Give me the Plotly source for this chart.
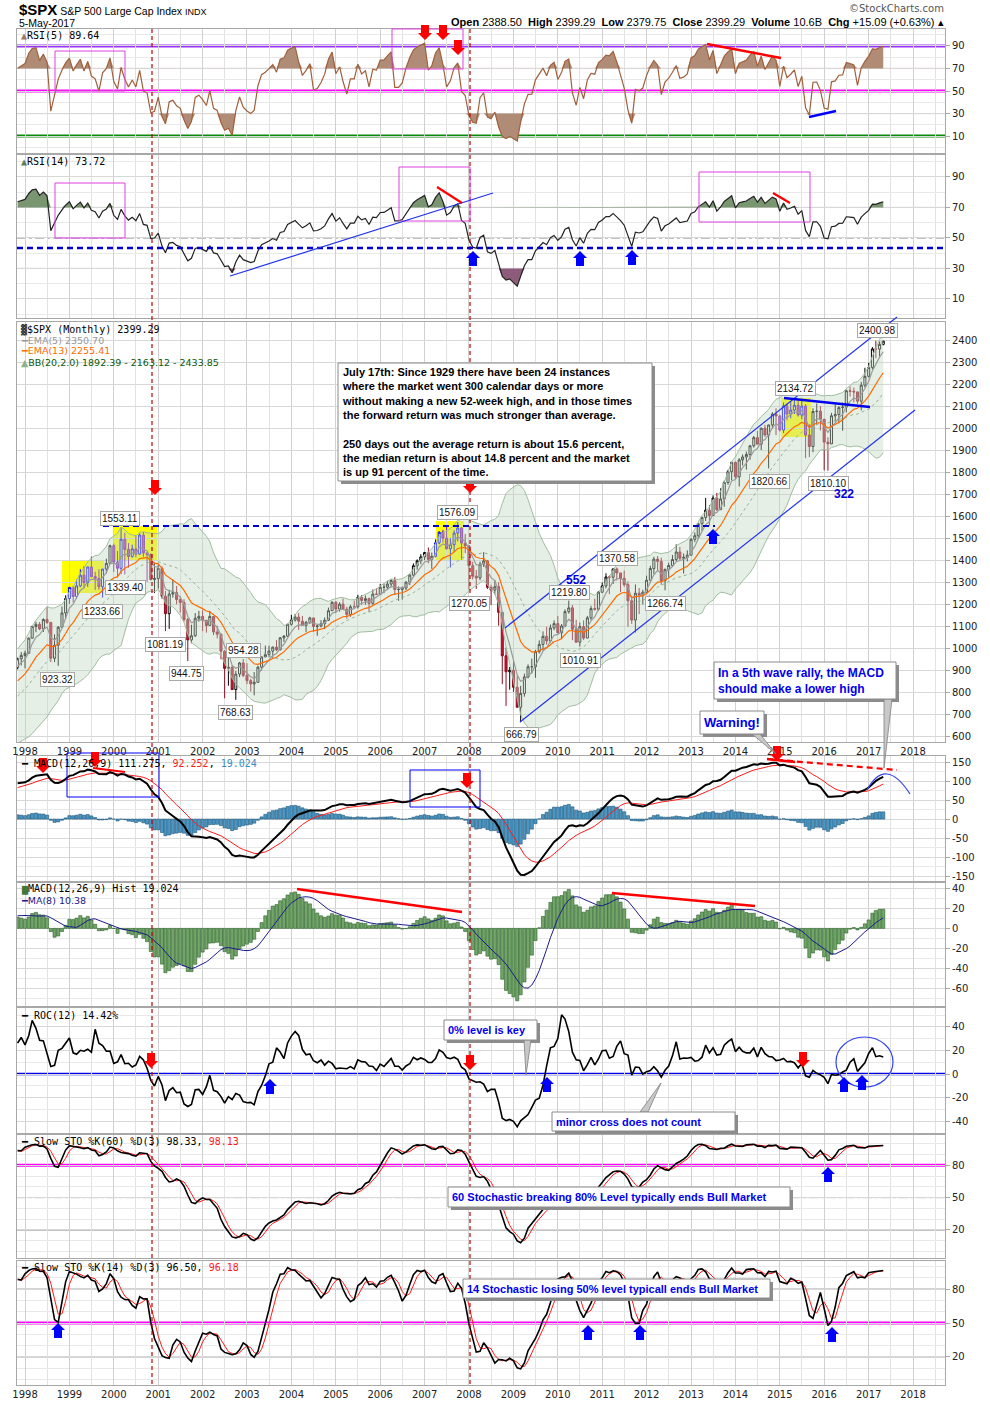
import numpy as np
import pandas as pd
import plotly.graph_objects as go
from plotly.subplots import make_subplots

# monthly $SPX, Jan 1992 - May 2017 (1992-97 only feeds the indicator look-back)
spx_close = [
    408.79, 412.70, 403.69, 414.95, 415.35, 408.14, 424.21, 414.03, 417.80, 418.68, 431.35, 435.71,
    438.78, 443.38, 451.67, 440.19, 450.19, 450.53, 448.13, 463.56, 458.93, 467.83, 461.79, 466.45,
    481.61, 467.14, 445.77, 450.91, 456.50, 444.27, 458.26, 475.49, 462.69, 472.35, 453.69, 459.27,
    470.42, 487.39, 500.71, 514.71, 533.40, 544.75, 562.06, 561.88, 584.41, 581.50, 605.37, 615.93,
    636.02, 640.43, 645.50, 654.17, 669.12, 670.63, 639.95, 651.99, 687.33, 705.27, 757.02, 740.74,
    786.16, 790.82, 757.12, 801.34, 848.28, 885.14, 954.31, 899.47, 947.28, 914.62, 955.40, 970.43,
    980.28, 1049.34, 1101.75, 1111.75, 1090.82, 1133.84, 1120.67, 957.28, 1017.01, 1098.67, 1163.63, 1229.23,
    1279.64, 1238.33, 1286.37, 1335.18, 1301.84, 1372.71, 1328.72, 1320.41, 1282.71, 1362.93, 1388.91, 1469.25,
    1394.46, 1366.42, 1498.58, 1452.43, 1420.60, 1454.60, 1430.83, 1517.68, 1436.51, 1429.40, 1314.95, 1320.28,
    1366.01, 1239.94, 1160.33, 1249.46, 1255.82, 1224.42, 1211.23, 1133.58, 1040.94, 1059.78, 1139.45, 1148.08,
    1130.20, 1106.73, 1147.39, 1076.92, 1067.14, 989.82, 911.62, 916.07, 815.28, 885.76, 936.31, 879.82,
    855.70, 841.15, 848.18, 916.92, 963.59, 974.50, 990.31, 1008.01, 995.97, 1050.71, 1058.20, 1111.92,
    1131.13, 1144.94, 1126.21, 1107.30, 1120.68, 1140.84, 1101.72, 1104.24, 1114.58, 1130.20, 1173.82, 1211.92,
    1181.27, 1203.60, 1180.59, 1156.85, 1191.50, 1191.33, 1234.18, 1220.33, 1228.81, 1207.01, 1249.48, 1248.29,
    1280.08, 1280.66, 1294.87, 1310.61, 1270.09, 1270.20, 1276.66, 1303.82, 1335.85, 1377.94, 1400.63, 1418.30,
    1438.24, 1406.82, 1420.86, 1482.37, 1530.62, 1503.35, 1455.27, 1473.99, 1526.75, 1549.38, 1481.14, 1468.36,
    1378.55, 1330.63, 1322.70, 1385.59, 1400.38, 1280.00, 1267.38, 1282.83, 1166.36, 968.75, 896.24, 903.25,
    825.88, 735.09, 797.87, 872.81, 919.14, 919.32, 987.48, 1020.62, 1057.08, 1036.19, 1095.63, 1115.10,
    1073.87, 1104.49, 1169.43, 1186.69, 1089.41, 1030.71, 1101.60, 1049.33, 1141.20, 1183.26, 1180.55, 1257.64,
    1286.12, 1327.22, 1325.83, 1363.61, 1345.20, 1320.64, 1292.28, 1218.89, 1131.42, 1253.30, 1246.96, 1257.60,
    1312.41, 1365.68, 1408.47, 1397.91, 1310.33, 1362.16, 1379.32, 1406.58, 1440.67, 1412.16, 1416.18, 1426.19,
    1498.11, 1514.68, 1569.19, 1597.57, 1630.74, 1606.28, 1685.73, 1632.97, 1681.55, 1756.54, 1805.81, 1848.36,
    1782.59, 1859.45, 1872.34, 1883.95, 1923.57, 1960.23, 1930.67, 2003.37, 1972.29, 2018.05, 2067.56, 2058.90,
    1994.99, 2104.50, 2067.89, 2085.51, 2107.39, 2063.11, 2103.84, 1972.18, 1920.03, 2079.36, 2080.41, 2043.94,
    1940.24, 1932.23, 2059.74, 2065.30, 2096.95, 2098.86, 2173.60, 2170.95, 2168.27, 2126.15, 2198.81, 2238.83,
    2278.87, 2363.64, 2362.72, 2384.20, 2399.29,
]
spx_high = [
    420.77, 418, 413, 416, 419, 417, 425, 425, 423, 419, 432, 442,
    442, 450, 456, 452, 454, 454, 451, 464, 464, 470, 469, 471,
    483, 483, 471, 453, 458, 462, 459, 477, 476, 474, 474, 466,
    472, 489, 503, 515, 534, 552, 563, 565, 586, 587, 607, 623,
    638, 665, 660, 660, 681, 680, 673, 669, 691, 714, 758, 762,
    794, 817, 815, 805, 852, 898, 957, 961, 960, 983, 961, 986,
    992, 1051, 1106, 1123, 1122, 1139, 1190.58, 1121, 1066, 1104, 1193, 1244,
    1280, 1284, 1316, 1362, 1376, 1373, 1420, 1351, 1362, 1364, 1410, 1474,
    1478, 1445, 1553.11, 1528, 1481, 1474, 1517, 1525, 1531, 1437, 1434, 1390,
    1383, 1376, 1263, 1269, 1316, 1286, 1239, 1226, 1141, 1110, 1163, 1173,
    1176, 1131, 1173, 1148, 1106, 1070, 994, 965, 925, 900, 941, 954.28,
    935, 864, 895, 924, 965, 1015, 1015, 1011, 1040, 1054, 1063, 1112,
    1155, 1159, 1163, 1150, 1128, 1146, 1141, 1109, 1131, 1143, 1188, 1217,
    1218, 1212, 1229, 1192, 1200, 1220, 1246, 1245, 1243, 1233, 1270, 1275,
    1295, 1297, 1310, 1318, 1326, 1284, 1284, 1307, 1340, 1389, 1407, 1431,
    1441, 1461, 1438, 1498, 1535, 1541, 1556, 1503, 1539, 1576.09, 1554, 1523,
    1471, 1396, 1359, 1397, 1440, 1404, 1292, 1313, 1303, 1168, 1007, 918,
    943, 877, 832, 888, 930, 956, 996, 1039, 1080, 1101, 1111, 1130,
    1150, 1113, 1180, 1219.80, 1200, 1132, 1120, 1130, 1150, 1196, 1228, 1263,
    1302, 1344, 1333, 1366, 1370.58, 1346, 1356, 1307, 1230, 1293, 1277, 1269,
    1333, 1378, 1419, 1422, 1415, 1364, 1392, 1427, 1475, 1464, 1434, 1448,
    1504, 1530, 1570, 1598, 1687, 1654, 1698, 1709, 1730, 1765, 1814, 1849,
    1851, 1867, 1884, 1897, 1925, 1968, 1991, 2006, 2019, 2019, 2076, 2094,
    2064, 2120, 2117, 2126, 2134.72, 2130, 2133, 2113, 2021, 2094, 2116, 2104,
    2044, 1962, 2073, 2111, 2103, 2120, 2178, 2193, 2188, 2169, 2214, 2278,
    2300, 2372, 2400.98, 2398, 2399.29,
]
spx_low = [
    403, 406, 401, 397, 410, 401, 407, 410, 413, 402, 417, 429,
    429, 431, 441, 436, 436, 441, 441, 447, 452, 457, 460, 460,
    465, 466, 436, 435, 443, 442, 444, 457, 461, 460, 449, 443,
    458, 469, 485, 500, 511, 530, 542, 552, 560, 573, 580, 604,
    597, 635, 627, 624, 646, 658, 605, 639, 650, 684, 703, 723,
    738, 773, 756, 733, 797, 832, 885, 897, 899, 855, 907, 925,
    912, 979, 1047, 1076, 1085, 1077, 1114, 939.98, 939.87, 923.32, 1095, 1136,
    1205, 1211, 1227, 1280, 1277, 1282, 1325, 1268, 1269, 1233.66, 1343, 1385,
    1350, 1325, 1339.40, 1339, 1369, 1415, 1416, 1429, 1419, 1305, 1312, 1254,
    1274, 1228, 1081.19, 1091, 1233, 1203, 1165, 1124, 944.75, 1026, 1054, 1124,
    1081, 1074, 1106, 1063, 1048, 952.92, 775.68, 833, 815, 768.63, 872, 872,
    840, 806, 788.90, 847, 902, 963, 962, 960, 990, 994, 1031, 1054,
    1106, 1124, 1087, 1106, 1076, 1113, 1078, 1060, 1098, 1090, 1127, 1173,
    1163, 1170, 1176, 1137, 1146, 1188, 1183, 1201, 1201, 1168, 1201, 1246,
    1245, 1253, 1268, 1280, 1245, 1219, 1224, 1266, 1290, 1327, 1360, 1385,
    1403, 1389, 1364, 1416, 1476, 1484, 1452, 1370, 1439, 1489, 1406, 1435,
    1270.05, 1316, 1273, 1312, 1373, 1272, 1200, 1248, 1106, 839.80, 741.02, 815,
    805, 735, 666.79, 783, 866, 888, 869, 979, 992, 1020, 1029, 1085,
    1071, 1044, 1101, 1160, 1040, 1028, 1010.91, 1040, 1049, 1131, 1174, 1173,
    1256, 1275, 1249, 1295, 1311, 1258, 1282, 1101, 1114, 1074.77, 1158, 1202,
    1257, 1312, 1340, 1357, 1292, 1266.74, 1325, 1378, 1397, 1403, 1343, 1398,
    1426, 1485, 1501, 1536, 1581, 1560, 1605, 1627, 1633, 1646, 1746, 1767,
    1770, 1737.92, 1834, 1815, 1860, 1915, 1930, 1904, 1964, 1820.66, 2001, 1972,
    1988, 1981, 2039, 2048, 2068, 2056, 2044, 1867, 1872, 1894, 2019, 1993,
    1812, 1810.10, 1931, 2033, 2025, 1992, 2075, 2147, 2120, 2114, 2084, 2188,
    2234, 2271, 2322, 2329, 2379.75,
]
open_before_first = 417.09   # Dec 1991 close; each month opens at the prior close

# months whose candles are highlighted inside the yellow boxes
highlight = [("1999-01", "1999-10"), ("2000-01", "2000-10"), ("2007-04", "2007-11"), ("2015-01", "2015-08")]

# high / low labels on the price panel: (text, x px, y px)
price_labels = [
    ("1553.11", 120, 518), ("1339.40", 125, 587), ("1233.66", 102, 611), ("923.32", 57, 679),
    ("1081.19", 165, 644), ("944.75", 186, 673), ("954.28", 243, 650), ("768.63", 235, 712),
    ("1576.09", 457, 512), ("1270.05", 469, 603), ("666.79", 521, 734), ("1219.80", 569, 592),
    ("1010.91", 580, 660), ("1370.58", 617, 558), ("1266.74", 665, 603), ("2134.72", 795, 389),
    ("1820.66", 769, 481), ("1810.10", 828, 483), ("2400.98", 877, 331),
]

months = pd.date_range("1992-01-01", periods=len(spx_close), freq="MS")
df = pd.DataFrame({"close": spx_close, "high": spx_high, "low": spx_low}, index=months)
df["open"] = [open_before_first] + spx_close[:-1]
c = df["close"]

# indicators, standard StockCharts definitions on the monthly bars
ema5 = c.ewm(span=5, adjust=False).mean()
ema13 = c.ewm(span=13, adjust=False).mean()
bb_mid = c.rolling(20).mean()
bb_sd = c.rolling(20).std(ddof=0)
bb_up, bb_dn = bb_mid + 2 * bb_sd, bb_mid - 2 * bb_sd


def rsi(s, n):
    d = s.diff()
    up = d.clip(lower=0).ewm(alpha=1 / n, adjust=False).mean()
    dn = (-d.clip(upper=0)).ewm(alpha=1 / n, adjust=False).mean()
    return 100 - 100 / (1 + up / dn)


def slow_sto(n):
    hh = df["high"].rolling(n, min_periods=1).max()
    ll = df["low"].rolling(n, min_periods=1).min()
    k = ((c - ll) / (hh - ll) * 100).rolling(3).mean()
    return k, k.rolling(3).mean()


rsi5, rsi14 = rsi(c, 5), rsi(c, 14)
macd = c.ewm(span=12, adjust=False).mean() - c.ewm(span=26, adjust=False).mean()
signal = macd.ewm(span=9, adjust=False).mean()
hist = macd - signal
hist_ma = hist.rolling(8).mean()
roc = (c / c.shift(12) - 1) * 100
k60, d60 = slow_sto(60)
k14, d14 = slow_sto(14)

start = "1997-11-01"
v = df.loc[start:]
cut = lambda s: s.loc[start:]
t = v.index

# ---- page geometry (pixels of the 990x1401 page) ----
W, H = 990, 1401
ML, MR, MT, MB = 17, 45, 29, 16
PW, PH = W - ML - MR, H - MT - MB
def px(x): return (x - ML) / PW
def py(y): return (H - MB - y) / PH

panels = [(29, 153), (155, 318), (322, 742), (756, 881), (883, 1006), (1008, 1133), (1135, 1258), (1261, 1385)]

fig = make_subplots(rows=8, cols=1, shared_xaxes=True, vertical_spacing=0.004)


def add(tr, r):
    fig.add_trace(tr, row=r, col=1)


def level_fill(r, s, level, color, above):
    clipped = np.maximum(s, level) if above else np.minimum(s, level)
    add(go.Scatter(x=s.index, y=[level] * len(s), mode="lines", line=dict(width=0), hoverinfo="skip"), r)
    add(go.Scatter(x=s.index, y=clipped, mode="lines", line=dict(width=0), fill="tonexty",
                   fillcolor=color, hoverinfo="skip"), r)


# RSI(5)
level_fill(1, cut(rsi5), 70, "rgb(176,140,118)", True)
level_fill(1, cut(rsi5), 30, "rgb(176,140,118)", False)
add(go.Scatter(x=t, y=cut(rsi5), mode="lines", line=dict(color="#a0603c", width=1.2)), 1)

# RSI(14)
level_fill(2, cut(rsi14), 70, "rgb(122,150,112)", True)
level_fill(2, cut(rsi14), 30, "rgb(140,92,122)", False)
add(go.Scatter(x=t, y=cut(rsi14), mode="lines", line=dict(color="#222", width=1.2)), 2)

# price panel
add(go.Scatter(x=t, y=cut(bb_dn), mode="lines", line=dict(color="rgb(160,190,160)", width=1)), 3)
add(go.Scatter(x=t, y=cut(bb_up), mode="lines", line=dict(color="rgb(160,190,160)", width=1),
               fill="tonexty", fillcolor="rgba(195,218,195,0.42)"), 3)
add(go.Scatter(x=t, y=cut(bb_mid), mode="lines", line=dict(color="rgb(150,180,150)", width=1, dash="dot")), 3)

hl = pd.Series(False, index=t)
for a, b in highlight:
    hl.loc[a:b] = True
for mask, inc, dec in [(~hl, ("#000000", "#ffffff"), ("#8a0d20", "#cc1733")),
                       (hl, ("#0000ff", "#ffffff"), ("#7a10a8", "#b035dc"))]:
    d = v[mask.values]
    add(go.Candlestick(x=d.index, open=d["open"], high=d["high"], low=d["low"], close=d["close"],
                       increasing=dict(line=dict(color=inc[0], width=1), fillcolor=inc[1]),
                       decreasing=dict(line=dict(color=dec[0], width=1), fillcolor=dec[1]),
                       whiskerwidth=0), 3)
add(go.Scatter(x=t, y=cut(ema5), mode="lines", line=dict(color="#9a9a9a", width=1.2)), 3)
add(go.Scatter(x=t, y=cut(ema13), mode="lines", line=dict(color="#ff6a00", width=1.2)), 3)

# MACD
add(go.Bar(x=t, y=cut(hist), marker=dict(color="rgb(75,150,195)", line=dict(color="rgb(30,85,120)", width=0.6))), 4)
add(go.Scatter(x=t, y=cut(signal), mode="lines", line=dict(color="#ff1a1a", width=1)), 4)
add(go.Scatter(x=t, y=cut(macd), mode="lines", line=dict(color="#000", width=2)), 4)

# MACD histogram
add(go.Bar(x=t, y=cut(hist), marker=dict(color="rgb(115,165,105)", line=dict(color="rgb(40,95,40)", width=0.6))), 5)
add(go.Scatter(x=t, y=cut(hist_ma), mode="lines", line=dict(color="#1a1a8c", width=1)), 5)

# ROC
add(go.Scatter(x=t, y=cut(roc), mode="lines", line=dict(color="#000", width=1.6)), 6)

# stochastics
for r, k, dd in [(7, k60, d60), (8, k14, d14)]:
    add(go.Scatter(x=t, y=cut(dd), mode="lines", line=dict(color="#ff1a1a", width=1)), r)
    add(go.Scatter(x=t, y=cut(k), mode="lines", line=dict(color="#000", width=1.6)), r)

# ---- axes ----
years = list(range(1998, 2019))
fig.update_xaxes(type="date", range=["1997-10-27", "2018-09-21"], automargin=False,
                 tickvals=[f"{y}-01-01" for y in years], ticktext=[str(y) for y in years],
                 showgrid=True, gridcolor="#d0d0d0",
                 minor=dict(dtick="M6", tick0="1998-01-01", showgrid=True, gridcolor="#e2e2e2"),
                 showline=True, mirror=True, linecolor="#a8a8a8", ticks="", showticklabels=False,
                 tickfont=dict(size=10, color="#222"), rangeslider_visible=False)
fig.update_xaxes(showticklabels=True, row=3, col=1)
fig.update_xaxes(showticklabels=True, row=8, col=1)

yspec = [
    ([-5, 105], [10, 30, 50, 70, 90], 10),
    ([-2.5, 104.4], [10, 30, 50, 70, 90], 10),
    ([577, 2486], list(range(600, 2401, 100)), 100),
    ([-163, 166], list(range(-150, 151, 50)), 25),
    ([-77, 45], list(range(-60, 41, 20)), 10),
    ([-50, 56], list(range(-40, 41, 20)), 10),
    ([-6, 108], [20, 50, 80], 10),
    ([-5, 105], [20, 50, 80], 10),
]
for i, ((rng, ticks, minor), (top, bot)) in enumerate(zip(yspec, panels)):
    fig.update_yaxes(range=rng, tickvals=ticks, ticktext=[str(x) for x in ticks], side="right",
                     domain=[py(bot), py(top)], automargin=False, showgrid=True, gridcolor="#d8d8d8",
                     minor=dict(dtick=minor, showgrid=True, gridcolor="#e9e9e9"),
                     showline=True, mirror=True, linecolor="#a8a8a8", zeroline=False,
                     ticks="outside", ticklen=4, tickcolor="#a8a8a8",
                     tickfont=dict(size=10, color="#222"), row=i + 1, col=1)

# ---- level lines ----
def hl_line(r, y, color, width=1, dash="solid"):
    fig.add_hline(y=y, line=dict(color=color, width=width, dash=dash), layer="below", row=r, col=1)

hl_line(1, 90, "#9933ff", 3); hl_line(1, 70, "#a0522d"); hl_line(1, 50, "#ff00ff", 3)
hl_line(1, 30, "#a0522d"); hl_line(1, 10, "#0a8a0a", 3)
hl_line(2, 70, "#707070"); hl_line(2, 50, "#707070", 1, "dashdot"); hl_line(2, 30, "#707070")
hl_line(6, 0, "#0000ee", 2.5)
hl_line(7, 80, "#666", 1); hl_line(7, 80, "#ff00ff", 3); hl_line(7, 50, "#555", 1, "dashdot"); hl_line(7, 20, "#777")
hl_line(8, 80, "#777"); hl_line(8, 20, "#777"); hl_line(8, 50, "#555", 1, "dashdot"); hl_line(8, 50, "#ff00ff", 3)


# ---- drawn annotations (page pixels -> paper) ----
def seg(x0, y0, x1, y1, color, width=1, dash="solid"):
    fig.add_shape(type="line", xref="paper", yref="paper", x0=px(x0), y0=py(y0), x1=px(x1), y1=py(y1),
                  line=dict(color=color, width=width, dash=dash))


def box(x0, y0, x1, y1, color, width=1, fill=None, layer="above"):
    fig.add_shape(type="rect", xref="paper", yref="paper", x0=px(x0), y0=py(y0), x1=px(x1), y1=py(y1),
                  line=dict(color=color, width=width), fillcolor=fill, layer=layer)


DOWN = "M0,0 L-7,7 L-4,7 L-4,15 L4,15 L4,7 L7,7 Z"
UP = "M0,0 L-7,-7 L-4,-7 L-4,-15 L4,-15 L4,-7 L7,-7 Z"


def arrow(x, y, down):
    fig.add_shape(type="path", path=DOWN if down else UP, xref="paper", yref="paper",
                  xsizemode="pixel", ysizemode="pixel", xanchor=px(x), yanchor=py(y),
                  fillcolor="#ff0000" if down else "#0000ff", line=dict(width=0))


def note(x, y, text, size=10, color="#000", xanchor="left", family="DejaVu Sans Mono", **kw):
    fig.add_annotation(x=px(x), y=py(y), xref="paper", yref="paper", text=text, showarrow=False,
                       xanchor=xanchor, yanchor="middle", font=dict(size=size, color=color, family=family), **kw)


def callout(x0, y0, x1, y1, text, size, color, tail=None):
    box(x0 + 3, y0 + 3, x1 + 3, y1 + 3, "rgba(0,0,0,0)", 0, "#8c8c8c")
    if tail:
        (ax0, ay0), (ax1, ay1), (tx, ty) = tail
        fig.add_shape(type="path", xref="paper", yref="paper", fillcolor="#c8c8c8",
                      line=dict(color="#808080", width=0.8),
                      path=f"M{px(ax0)},{py(ay0)} L{px(tx)},{py(ty)} L{px(ax1)},{py(ay1)} Z")
    box(x0, y0, x1, y1, "#8a8a8a", 1, "#ffffff")
    note(x0 + 2, (y0 + y1) / 2, text, size, color, family="Liberation Sans", align="left")


# yellow highlight boxes
for b in [(62, 560, 104, 593), (114, 526, 157, 560), (436, 521, 464, 561), (781, 398, 811, 437)]:
    box(*b, "rgba(0,0,0,0)", 0, "#ffff00", layer="below")

# red dashed verticals through all panels
for x in (152, 470):
    seg(x, 29, x, 1385, "#c00000", 1.2, "4px,3px")

# RSI(5)
box(55, 51, 125, 91, "#e040e0"); box(392, 29, 463, 69, "#e040e0")
seg(707, 44, 781, 58, "#ff0000", 2.5); seg(809, 117, 836, 111, "#0000ff", 2.5)
# RSI(14)
box(55, 183, 125, 238, "#e040e0"); box(399, 167, 470, 221, "#e040e0"); box(699, 172, 810, 222, "#e040e0")
seg(17, 248, 945, 248, "#0000cc", 2.5, "6px,4px")
seg(230, 276, 493, 193, "#2233ee", 1.2)
seg(437, 187, 462, 203, "#ff0000", 2.2); seg(773, 193, 790, 203, "#ff0000", 2.2)
# price
seg(103, 526, 715, 526, "#0000cc", 2, "6px,4px")
seg(505, 628, 897, 317, "#2233ee", 1.2); seg(520, 722, 915, 410, "#2233ee", 1.2)
seg(784, 398, 870, 407, "#0000ee", 2.5)
# MACD
box(67, 753, 159, 797, "#0000ff"); box(410, 770, 480, 807, "#0000ff")
seg(93, 768, 125, 772, "#ff0000", 2)
seg(767, 759, 795, 762, "#ff0000", 2.5); seg(767, 759, 897, 770, "#ff0000", 2.2, "6px,4px")
fig.add_shape(type="path", xref="paper", yref="paper", line=dict(color="#3344ee", width=1.2),
              path=f"M{px(867)},{py(790)} Q{px(885.5)},{py(756)} {px(910)},{py(794)}")
# histogram
seg(297, 889, 462, 912, "#ff0000", 2.5); seg(612, 893, 755, 906, "#ff0000", 2.5)
# ROC ellipse
fig.add_shape(type="circle", xref="paper", yref="paper", x0=px(836), y0=py(1087), x1=px(893), y1=py(1037),
              line=dict(color="#3344ee", width=1.2))

for x, y in [(425, 40), (443, 40), (458, 55), (155, 495), (470, 493), (43, 773), (95, 767), (467, 788),
             (777, 761), (151, 1068), (470, 1070), (803, 1067)]:
    arrow(x, y, True)
for x, y in [(473, 251), (580, 251), (632, 250), (713, 529), (270, 1079), (547, 1077), (844, 1077),
             (862, 1075), (828, 1167), (58, 1323), (588, 1325), (640, 1325), (832, 1327)]:
    arrow(x, y, False)

# text boxes
callout(338, 363, 652, 481,
        "<b>July 17th: Since 1929 there have been 24 instances<br>where the market went 300 calendar days or more<br>"
        "without making a new 52-week high, and in those times<br>the forward return was much stronger than average."
        "<br> <br>250 days out the average return is about 15.6 percent,<br>the median return is about 14.8 percent and the market"
        "<br>is up 91 percent of the time.</b>", 11, "#000")
callout(714, 662, 896, 699, "<b>In a 5th wave rally, the MACD<br>should make a lower high</b>", 12, "#0000ee",
        tail=((884, 699), (892, 699), (884, 768)))
callout(700, 711, 764, 734, "<b>Warning!</b>", 13, "#0000ee", tail=((752, 734), (760, 734), (776, 754)))
callout(444, 1020, 537, 1040, "<b>0% level is key</b>", 11, "#0000ee", tail=((524, 1040), (531, 1040), (526, 1075)))
callout(552, 1112, 735, 1131, "<b>minor cross does not count</b>", 11, "#0000ee",
        tail=((640, 1112), (648, 1112), (661, 1083)))
callout(448, 1187, 790, 1207, "<b>60 Stochastic breaking 80% Level typically ends Bull Market</b>", 11, "#0000ee")
callout(463, 1279, 770, 1298, "<b>14 Stochastic losing 50% level typicall ends Bull Market</b>", 11, "#0000ee")

# price value labels
for txt, x, y in price_labels:
    note(x, y, txt, 10, "#111", xanchor="center", family="Liberation Sans",
         bgcolor="#ffffff", bordercolor="#a8a8a8", borderwidth=1, borderpad=1)
note(576, 580, "<b>552</b>", 12, "#0000dd", xanchor="center", family="Liberation Sans")
note(844, 494, "<b>322</b>", 12, "#0000dd", xanchor="center", family="Liberation Sans")

# header
note(17, 10, "<b><span style='font-size:15px'>$SPX</span></b> S&P 500 Large Cap Index "
     "<span style='font-size:9px'>INDX</span>", 10.5, "#000", family="Liberation Sans")
note(17, 23, "5-May-2017", 10.5, "#000", family="Liberation Sans")
note(946, 9, "\u00a9StockCharts.com", 10, "#555", xanchor="right", family="DejaVu Sans")
note(946, 22, "<b>Open</b> 2388.50  <b>High</b> 2399.29  <b>Low</b> 2379.75  <b>Close</b> 2399.29  "
     "<b>Volume</b> 10.6B  <b>Chg</b> +15.09 (+0.63%) \u25b4", 11, "#000", xanchor="right", family="Liberation Sans")

# panel legends
note(19, 35, "<span style='color:#a0785a'>\u25b2</span>RSI(5) 89.64")
note(19, 161, "<span style='color:#5e7e58'>\u25b2</span>RSI(14) 73.72")
note(19, 329, "<span style='color:#333'>\u2593</span>$SPX (Monthly) 2399.29")
note(19, 340, "\u2501EMA(5) 2350.70", 9.5, "#999", family="DejaVu Sans")
note(19, 351, "\u2501EMA(13) 2255.41", 9.5, "#ff6a00", family="DejaVu Sans")
note(19, 362, "<span style='color:#8fb08f'>\u25b2</span>BB(20,2.0) 1892.39 - 2163.12 - 2433.85", 9.5, "#0a5a0a",
     family="DejaVu Sans")
note(19, 763, "\u2501 MACD(12,26,9) 111.275, <span style='color:#ff1a1a'>92.252</span>, "
     "<span style='color:#3a8ec0'>19.024</span>")
note(19, 889, "<span style='color:#3a7a3a'>\u2586</span>MACD(12,26,9) Hist 19.024")
note(19, 900, "\u2501MA(8) 10.38", 9.5, "#1a1a8c", family="DejaVu Sans")
note(19, 1015, "\u2501 ROC(12) 14.42%")
note(19, 1141, "\u2501 Slow STO %K(60) %D(3) 98.33, <span style='color:#ff1a1a'>98.13</span>")
note(19, 1267, "\u2501 Slow STO %K(14) %D(3) 96.50, <span style='color:#ff1a1a'>96.18</span>")

fig.update_layout(width=W, height=H, margin=dict(l=ML, r=MR, t=MT, b=MB, autoexpand=False),
                  paper_bgcolor="white", plot_bgcolor="white", showlegend=False,
                  bargap=0.08, boxgap=0.15, font=dict(family="DejaVu Sans", size=10, color="#222"))

# the page's default body margin would push the fixed-size figure 8px off the window
fig.write_html("out.html", config={"displayModeBar": False},
               post_script="document.body.style.margin='0px';")
